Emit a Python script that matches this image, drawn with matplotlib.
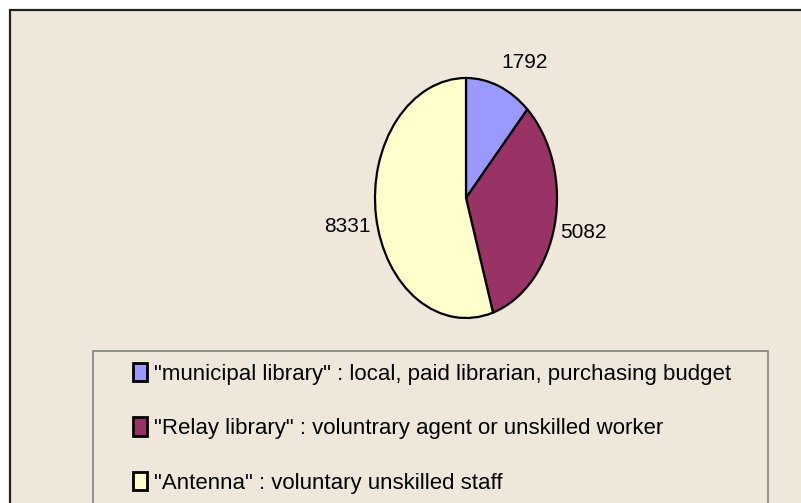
import matplotlib
matplotlib.use("Agg")
import matplotlib.pyplot as plt
from matplotlib.patches import Rectangle, Patch

# library types and number of sites
categories = ['"municipal library" : local, paid librarian, purchasing budget',
              '"Relay library" : voluntrary agent or unskilled worker',
              '"Antenna" : voluntary unskilled staff']
values = [1792, 5082, 8331]
colors = ["#9999FF", "#993366", "#FFFFCC"]

bg = "#EEE7DA"
plt.rcParams['font.family'] = ['Liberation Sans Narrow', 'Liberation Sans', 'DejaVu Sans']

W, H = 801, 503
fig = plt.figure(figsize=(W / 100, H / 100), dpi=100, facecolor="white")

# chart area: beige, border on left and top only (cut off right/bottom)
fig.patches.append(Rectangle((10 / W, -0.1), 1.2, 1 - 10 / H + 0.1,
                             transform=fig.transFigure, facecolor=bg,
                             edgecolor="#222222", linewidth=1.6, zorder=-2))
# legend box, open at the bottom edge of the image
fig.patches.append(Rectangle((93 / W, -0.1), (768 - 93) / W, 0.1 + 1 - 351 / H,
                             transform=fig.transFigure, facecolor=bg,
                             edgecolor="#808080", linewidth=1.2, zorder=-1))

# pie drawn as a vertical ellipse
cx, cy, rx, ry = 466, 198, 91, 120
ax = fig.add_axes([(cx - rx) / W, 1 - (cy + ry) / H, 2 * rx / W, 2 * ry / H])
wedges, texts = ax.pie(values, colors=colors, startangle=90, counterclock=False,
                       labels=[str(v) for v in values], labeldistance=1.06,
                       wedgeprops=dict(edgecolor="black", linewidth=1.6),
                       textprops=dict(fontsize=15, color="black"))
# excel puts the labels a bit further out vertically
label_dy = [0.14, -0.06, -0.08]
for t, dy in zip(texts, label_dy):
    x, y = t.get_position()
    t.set_position((x, y + dy))
ax.set_aspect("auto")
ax.set_xlim(-1, 1)
ax.set_ylim(-1, 1)
ax.axis("off")

# legend entries
handles = [Patch(facecolor=c, edgecolor="black", linewidth=2) for c in colors]
leg = fig.legend(handles, categories, loc="upper left",
                 bbox_to_anchor=(133 / W, 1 - 363 / H),
                 fontsize=16, frameon=False,
                 handlelength=0.65, handleheight=0.9, handletextpad=0.3,
                 labelspacing=1.46, borderpad=0, borderaxespad=0)

fig.savefig("out.png", dpi=100, facecolor="white")
